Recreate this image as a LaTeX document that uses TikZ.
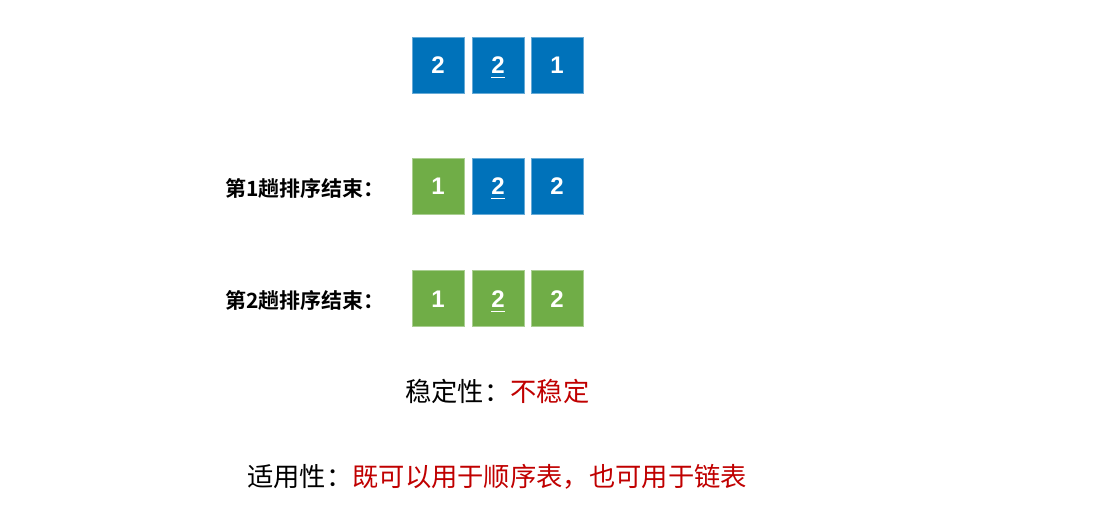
\documentclass[tikz,border=0pt]{standalone}
\usepackage{fontspec}
\setmainfont{Liberation Sans}
\newfontfamily\cjk{Noto Sans CJK SC}
\newfontfamily\cjkb{Noto Sans CJK SC Bold}
\definecolor{bblue}{RGB}{0,114,186}
\definecolor{ggreen}{RGB}{112,173,71}
\definecolor{rred}{RGB}{192,0,0}
\newcommand{\ul}[1]{\setbox0\hbox{#1}\rlap{\rule[-4.5pt]{\wd0}{1pt}}\box0}
\tikzset{
  cell/.style={minimum width=52pt, minimum height=56pt, inner sep=0pt, text=white,
    text height=17pt, text depth=0pt,
    font=\fontsize{24}{24}\selectfont\bfseries, line width=0.8pt},
  bluecell/.style={cell, fill=bblue, draw=bblue!60!white},
  greencell/.style={cell, fill=ggreen, draw=ggreen!60!white},
  lab/.style={anchor=west, inner sep=0pt, font=\cjkb\fontsize{21}{21}\selectfont},
  big/.style={anchor=west, inner sep=0pt, font=\cjk\fontsize{26.3}{26.3}\selectfont}
}
\begin{document}
\begin{tikzpicture}[x=1pt,y=-1pt]
\useasboundingbox (0,0) rectangle (1120,516);
% row 0
\node[bluecell] (a1) at (438,65) {2};
\node[bluecell] (a2) at (498,65) {\ul{2}};
\node[bluecell] (a3) at (557,65) {1};
% row 1
\node[lab] (l1) at (225,188) {第1趟排序结束：};
\node[greencell] (b1) at (438,186.5) {1};
\node[bluecell] (b2) at (498,186.5) {\ul{2}};
\node[bluecell] (b3) at (557,186.5) {2};
% row 2
\node[lab] (l2) at (225,300) {第2趟排序结束：};
\node[greencell] (c1) at (438,298.5) {1};
\node[greencell] (c2) at (498,298.5) {\ul{2}};
\node[greencell] (c3) at (557,298.5) {2};
% texts
\node[big] (stab) at (405,391) {稳定性：\textcolor{rred}{不稳定}};
\node[big] (appl) at (247,477) {适用性：\textcolor{rred}{既可以用于顺序表，也可用于链表}};
\end{tikzpicture}
\end{document}
